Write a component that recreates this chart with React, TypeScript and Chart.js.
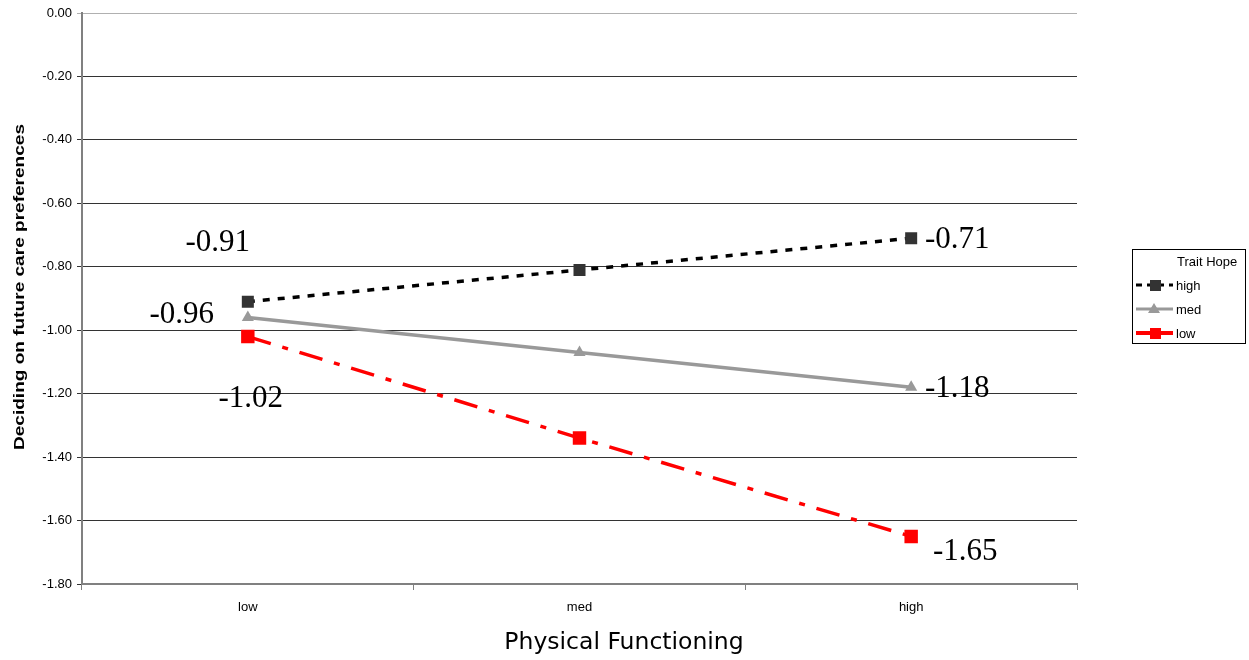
import React, { useEffect, useRef } from "react";
import { Chart, registerables } from "chart.js";

Chart.register(...registerables);

const categories = ["low", "med", "high"];
const seriesNames = ["high", "med", "low"];
const highValues = [-0.91, -0.81, -0.71];
const medValues = [-0.96, -1.07, -1.18];
const lowValues = [-1.02, -1.34, -1.65];
const legendTitle = "Trait Hope";
const yTitle = "Deciding on future care preferences";
const xTitle = "Physical Functioning";

// which points get a value label, and the label offset (px) from the point
const labelSpecs = [
  { ds: 0, i: 0, dx: -30, dy: -59 },
  { ds: 0, i: 2, dx: 46, dy: 2 },
  { ds: 1, i: 0, dx: -66, dy: -3 },
  { ds: 1, i: 2, dx: 46, dy: 2 },
  { ds: 2, i: 0, dx: 3, dy: 62 },
  { ds: 2, i: 2, dx: 54, dy: 15 },
];

const legendItems = [
  { color: "#000", dash: [6, 5], width: 3, marker: "rect", mcolor: "#333" },
  { color: "#999", dash: [], width: 3, marker: "tri", mcolor: "#999" },
  { color: "#f00", dash: [], width: 4, marker: "rect", mcolor: "#f00" },
];

const SANS = '"Liberation Sans", Arial, sans-serif';

const overlayPlugin = {
  id: "overlay",
  afterDatasetsDraw(chart: any) {
    const ctx = chart.ctx;
    ctx.save();
    ctx.font = '31px "Liberation Serif", "DejaVu Serif", serif';
    ctx.fillStyle = "#000";
    ctx.textAlign = "center";
    ctx.textBaseline = "middle";
    for (const s of labelSpecs) {
      const meta = chart.getDatasetMeta(s.ds);
      const el = meta.data[s.i];
      const v = chart.data.datasets[s.ds].data[s.i] as number;
      ctx.fillText(v.toFixed(2), el.x + s.dx, el.y + s.dy);
    }
    // y title (wide letterforms)
    ctx.save();
    ctx.translate(20, 287);
    ctx.rotate(-Math.PI / 2);
    ctx.scale(1.27, 1);
    ctx.font = "bold 15px " + SANS;
    ctx.fillText(yTitle, 0, 0);
    ctx.restore();
    // x title centred on the page
    ctx.font = '23.5px "DejaVu Sans", Verdana, sans-serif';
    ctx.fillText(xTitle, 624, 643);
    // legend
    const lx = 1132, ly = 249, lw = 113, lh = 94;
    ctx.strokeStyle = "#000";
    ctx.lineWidth = 1;
    ctx.strokeRect(lx + 0.5, ly + 0.5, lw, lh);
    ctx.font = "13px " + SANS;
    ctx.textAlign = "left";
    ctx.fillText(legendTitle, 1177, 262);
    legendItems.forEach((it, k) => {
      const y = 285 + k * 24;
      ctx.save();
      ctx.strokeStyle = it.color;
      ctx.lineWidth = it.width;
      ctx.setLineDash(it.dash);
      ctx.beginPath();
      ctx.moveTo(1136, y);
      ctx.lineTo(1173, y);
      ctx.stroke();
      ctx.restore();
      ctx.fillStyle = it.mcolor;
      if (it.marker === "rect") {
        ctx.fillRect(1150, y - 5, 11, 11);
      } else {
        ctx.beginPath();
        ctx.moveTo(1154, y - 6);
        ctx.lineTo(1160, y + 4);
        ctx.lineTo(1148, y + 4);
        ctx.closePath();
        ctx.fill();
      }
      ctx.fillStyle = "#000";
      ctx.fillText(seriesNames[k], 1176, y + 1);
    });
    ctx.restore();
  },
};

export default function App() {
  const ref = useRef<HTMLCanvasElement | null>(null);
  useEffect(() => {
    if (!ref.current) return;
    const chart = new Chart(ref.current, {
      type: "line",
      data: {
        labels: categories,
        datasets: [
          {
            label: seriesNames[0],
            data: highValues,
            borderColor: "#000",
            borderWidth: 3.5,
            borderDash: [7, 8],
            pointStyle: "rect",
            pointRadius: 8.5,
            pointBackgroundColor: "#333",
            pointBorderWidth: 0,
            order: 1,
          },
          {
            label: seriesNames[1],
            data: medValues,
            borderColor: "#999",
            borderWidth: 3.5,
            pointStyle: "triangle",
            pointRadius: 7,
            pointBackgroundColor: "#999",
            pointBorderWidth: 0,
            order: 3,
          },
          {
            label: seriesNames[2],
            data: lowValues,
            borderColor: "#f00",
            borderWidth: 3.5,
            borderDash: [24, 12, 6, 12],
            pointStyle: "rect",
            pointRadius: 9.5,
            pointBackgroundColor: "#f00",
            pointBorderWidth: 0,
            order: 2,
          },
        ],
      },
      options: {
        responsive: false,
        animation: false,
        layout: { padding: { left: 0, right: 172, top: 13, bottom: 0 } },
        plugins: { legend: { display: false }, tooltip: { enabled: false } },
        scales: {
          x: {
            offset: true,
            grid: {
              offset: true,
              drawOnChartArea: false,
              color: "#808080",
              tickLength: 6,
            },
            border: { color: "#808080", width: 2 },
            ticks: {
              color: "#000",
              padding: 10,
              font: { family: SANS, size: 13 },
            },
            afterFit: (s: any) => {
              s.height = 76;
            },
          },
          y: {
            min: -1.8,
            max: 0,
            ticks: {
              stepSize: 0.2,
              color: "#000",
              padding: 5,
              font: { family: SANS, size: 13 },
              callback: (v: any) => Number(v).toFixed(2),
            },
            grid: {
              color: (c: any) => (c.tick && c.tick.value === 0 ? "#b0b0b0" : "#333"),
              tickLength: 5,
              lineWidth: 1,
            },
            border: { color: "#808080", width: 2 },
            afterFit: (s: any) => {
              s.width = 82;
            },
          },
        },
      },
      plugins: [overlayPlugin],
    });
    return () => chart.destroy();
  }, []);
  return (
    <div style={{ position: "fixed", left: 0, top: 0, width: 1249, height: 660, background: "#fff" }}>
      <canvas ref={ref} width={1249} height={660} style={{ width: 1249, height: 660 }} />
    </div>
  );
}
